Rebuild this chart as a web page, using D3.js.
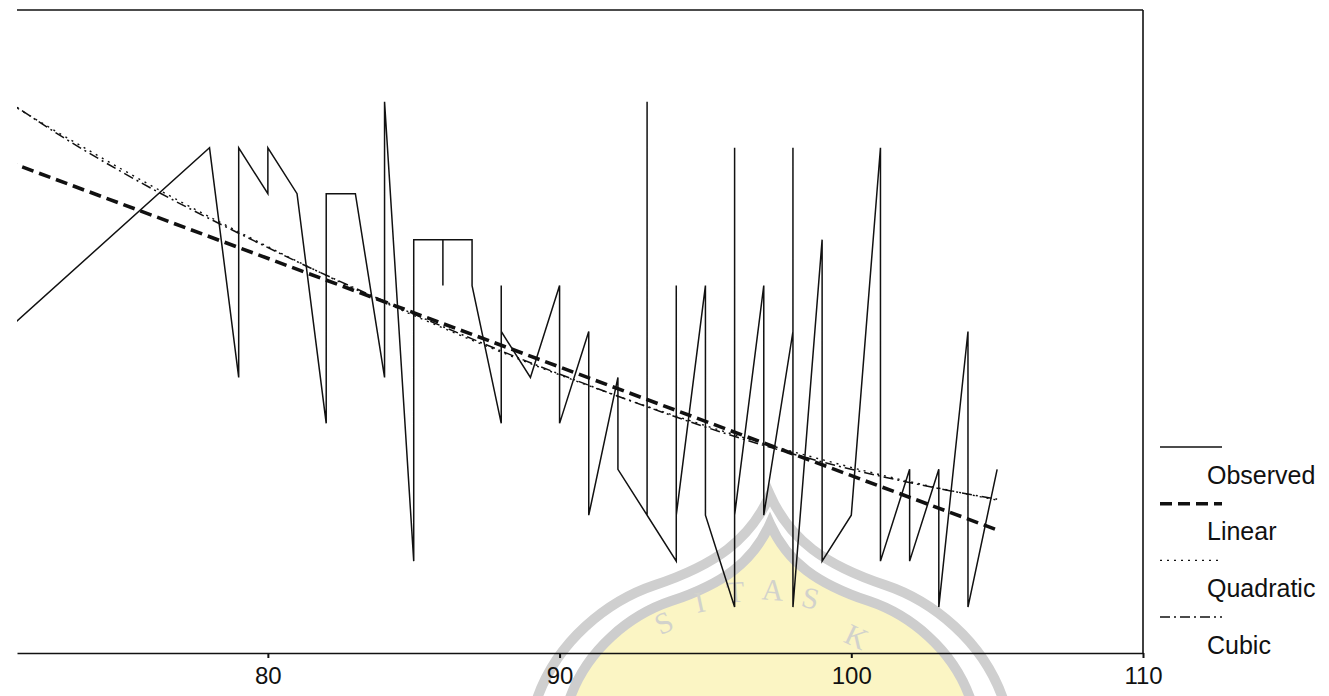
<!DOCTYPE html>
<html>
<head>
<meta charset="utf-8">
<script src="https://cdn.jsdelivr.net/npm/d3@7"></script>
<style>
  html, body { margin: 0; padding: 0; background: #fff; }
  svg { display: block; }
  text { font-family: "Liberation Sans", Arial, Helvetica, sans-serif; }
</style>
</head>
<body>
<svg id="chart" width="1329" height="696"></svg>
<script>
// ---- data ----
const obsX = [71,78,79,79,80,80,81,82,82,83,84,84,85,85,86,86,86,87,87,88,88,88,89,90,90,91,91,92,92,93,93,93,94,94,94,95,95,96,96,96,97,97,98,98,98,99,99,100,101,101,102,102,103,103,104,104,105];
const obsY = [7,11,6,11,10,11,10,5,10,10,6,12,2,9,9,8,9,9,8,5,8,7,6,8,5,7,3,6,4,3,12,3,2,8,3,8,3,1,11,3,8,3,7,11,1,9,2,3,11,2,4,2,4,1,7,1,4];

const linearX = [71, 105];
const linearY = [10.72, 2.68];

const curveX = [71,73,75,77,79,81,83,85,87,89,91,93,95,97,99,101,103,105];
const quadY  = [12.02,11.26,10.53,9.83,9.17,8.53,7.92,7.35,6.81,6.30,5.82,5.37,4.95,4.56,4.21,3.88,3.59,3.33];
const cubicY = [12.05,11.22,10.47,9.78,9.14,8.52,7.94,7.38,6.84,6.32,5.83,5.36,4.92,4.52,4.16,3.85,3.58,3.35];

const xTicks = [80, 90, 100, 110];
const xDomain = [71.4, 110];
const yDomain = [0, 14];
const legendLabels = ["Observed", "Linear", "Quadratic", "Cubic"];
const watermarkLetters = ["S", "I", "T", "A", "S", "K"];

// ---- layout ----
const W = 1329, H = 696;
const plot = { left: 17, right: 1143, top: 10, bottom: 653 };
const svg = d3.select("#chart");

const x = d3.scaleLinear().domain(xDomain).range([plot.left, plot.right]);
const y = d3.scaleLinear().domain(yDomain).range([plot.bottom, plot.top]);

// ---- watermark (background) ----
const wm = svg.append("g").attr("class", "watermark");
function domePath(s, cx, by) {
  const p = d3.path();
  const X = dx => cx + dx * s, Y = dy => by - dy * s;
  p.moveTo(X(-235), Y(-5));
  p.bezierCurveTo(X(-215), Y(60), X(-160), Y(100), X(-115), Y(115));
  p.bezierCurveTo(X(-55), Y(135), X(-20), Y(160), X(0), Y(205));
  p.bezierCurveTo(X(20), Y(160), X(55), Y(135), X(115), Y(115));
  p.bezierCurveTo(X(160), Y(100), X(215), Y(60), X(235), Y(-5));
  p.closePath();
  return p.toString();
}
wm.append("path").attr("d", domePath(1.0, 770, 700))
  .attr("fill", "#ffffff").attr("stroke", "#cfcfcf").attr("stroke-width", 10);
wm.append("path").attr("d", domePath(0.86, 770, 700))
  .attr("fill", "#fbf5c4").attr("stroke", "#cdcdcd").attr("stroke-width", 10);
const letterPos = [[668, 632, -25], [702, 612, -12], [736, 602, -4], [772, 600, 4], [808, 608, 14], [852, 646, 25]];
wm.selectAll("text.wl").data(watermarkLetters).join("text")
  .attr("class", "wl")
  .attr("transform", (d, i) => `translate(${letterPos[i][0]},${letterPos[i][1]}) rotate(${letterPos[i][2]})`)
  .attr("text-anchor", "middle")
  .style("font-family", "'Liberation Serif', serif")
  .style("font-size", "30px")
  .attr("fill", "#d2d2cc")
  .text(d => d);

// ---- frame ----
const frame = svg.append("g").attr("stroke", "#111").attr("stroke-width", 1.6).attr("fill", "none");
frame.append("line").attr("x1", plot.left).attr("x2", plot.right).attr("y1", plot.top).attr("y2", plot.top);
frame.append("line").attr("x1", plot.right).attr("x2", plot.right).attr("y1", plot.top).attr("y2", plot.bottom);

// ---- axis ----
const xAxis = d3.axisBottom(x).tickValues(xTicks).tickSize(5).tickSizeOuter(0).tickPadding(9).tickFormat(d3.format("d"));
const gx = svg.append("g").attr("transform", `translate(0,${plot.bottom})`).call(xAxis);
gx.select(".domain").attr("stroke", "#111").attr("stroke-width", 1.6);
gx.selectAll(".tick line").attr("stroke", "#111").attr("stroke-width", 2);
gx.selectAll(".tick text").style("font-size", "24px").attr("fill", "#111")
  .style("font-family", "'Liberation Sans', Arial, sans-serif");

// ---- clip ----
svg.append("clipPath").attr("id", "clip").append("rect")
  .attr("x", plot.left).attr("y", plot.top).attr("width", plot.right - plot.left).attr("height", plot.bottom - plot.top);
const g = svg.append("g").attr("clip-path", "url(#clip)");

const line = d3.line().x(d => x(d[0])).y(d => y(d[1]));
const smooth = d3.line().x(d => x(d[0])).y(d => y(d[1])).curve(d3.curveMonotoneX);

const styles = [
  { w: 1.5, dash: null },
  { w: 3.6, dash: "12,6" },
  { w: 1.4, dash: "2,5" },
  { w: 1.5, dash: "10,4,2,4" }
];

g.append("path").datum(curveX.map((v, i) => [v, cubicY[i]]))
  .attr("d", smooth).attr("fill", "none").attr("stroke", "#111")
  .attr("stroke-width", styles[3].w).attr("stroke-dasharray", styles[3].dash);
g.append("path").datum(curveX.map((v, i) => [v, quadY[i]]))
  .attr("d", smooth).attr("fill", "none").attr("stroke", "#111")
  .attr("stroke-width", styles[2].w).attr("stroke-dasharray", styles[2].dash);
g.append("path").datum(linearX.map((v, i) => [v, linearY[i]]))
  .attr("d", line).attr("fill", "none").attr("stroke", "#111")
  .attr("stroke-width", styles[1].w).attr("stroke-dasharray", styles[1].dash);
g.append("path").datum(obsX.map((v, i) => [v, obsY[i]]))
  .attr("d", line).attr("fill", "none").attr("stroke", "#111")
  .attr("stroke-width", styles[0].w).attr("stroke-linejoin", "miter");

// ---- legend ----
const legend = svg.append("g").attr("transform", "translate(1160,447)");
const lg = legend.selectAll("g").data(legendLabels).join("g")
  .attr("transform", (d, i) => `translate(0,${i * 56.7})`);
lg.append("line").attr("x1", 0).attr("x2", 62).attr("y1", 0).attr("y2", 0)
  .attr("stroke", "#111")
  .attr("stroke-width", (d, i) => styles[i].w)
  .attr("stroke-dasharray", (d, i) => styles[i].dash);
lg.append("text").attr("x", 47).attr("y", 28).attr("dy", "0.35em")
  .style("font-size", "25px").attr("fill", "#111")
  .text(d => d);
</script>
</body>
</html>
